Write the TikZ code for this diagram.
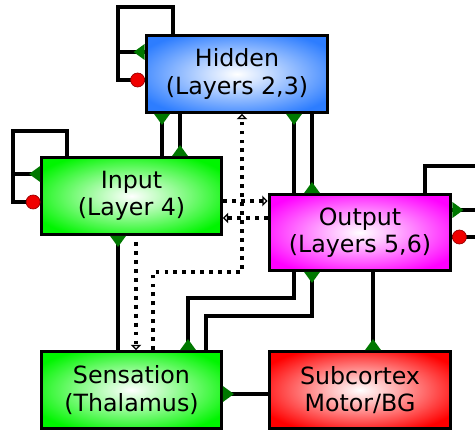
\documentclass[tikz,border=0pt]{standalone}
\usepackage{fontspec}
\setmainfont{DejaVu Sans}
\usetikzlibrary{arrows.meta}

\definecolor{hiddenblue}{RGB}{45,125,255}
\definecolor{layergreen}{RGB}{0,245,0}
\definecolor{outmagenta}{RGB}{255,0,255}
\definecolor{subred}{RGB}{255,0,0}
\definecolor{excgreen}{RGB}{0,120,0}
\definecolor{inhred}{RGB}{240,0,0}
\colorlet{layercol}{white}

% soft white glow in the middle of each layer
\pgfdeclareradialshading[layercol]{layerglow}{\pgfpoint{0bp}{0bp}}{%
  color(0bp)=(white); color(8bp)=(white!75!layercol);
  color(30bp)=(layercol); color(50bp)=(layercol)}

\tikzset{
  layer/.style={/utils/exec={\colorlet{layercol}{#1}}, draw=black, line width=1.9pt,
    shading=layerglow, align=center, inner sep=0pt, minimum width=3.63cm,
    minimum height=1.53cm, font=\fontsize{13.5}{15.5}\selectfont},
  prjn/.style={line width=1.9pt},
  deep/.style={line width=2.2pt, dash pattern=on 2.2pt off 2.9pt},
  deeptip/.style={-{Triangle[open, length=3pt, width=6pt, line width=1.1pt]}}
}

% excitatory / inhibitory synapse marks: point on the border, direction
\newcommand{\excsyn}[2]{%
  \fill[excgreen, shift={#1}, rotate=#2] (0,-8) -- (11,0) -- (0,8) -- cycle;}
\newcommand{\inhsyn}[2]{%
  \filldraw[fill=inhred, draw=red!60!black, line width=0.4pt, shift={#1}, rotate=#2]
    (7,0) circle [radius=0.14cm];}

\begin{document}
\begin{tikzpicture}[x=0.02cm, y=-0.02cm]
  \useasboundingbox (0,0) rectangle (475,431);
  \pgfmathsetmacro{\outx}{482}

  \node[layer=hiddenblue] (hidden) at (237,74) {Hidden\\(Layers 2,3)};
  \node[layer=layergreen, minimum width=3.59cm] (input) at (131.5,196) {Input\\(Layer 4)};
  \node[layer=outmagenta, minimum height=1.51cm] (output) at (360,232.5) {Output\\(Layers 5,6)};
  \node[layer=layergreen, minimum width=3.59cm] (sensation) at (131.5,390) {Sensation\\(Thalamus)};
  \node[layer=subred] (subcortex) at (360,390) {Subcortex\\Motor/BG};

  % self loops
  \draw[prjn] (173,0 |- hidden.north) -- (173,7) -- (118,7) -- (118,80)
    -- (hidden.west |- 0,80);
  \draw[prjn] (118,52) -- (hidden.west |- 0,52);
  \draw[prjn] (67,0 |- input.north) -- (67,131) -- (13,131) -- (13,202)
    -- (input.west |- 0,202);
  \draw[prjn] (13,174) -- (input.west |- 0,174);
  \draw[prjn] (425,0 |- output.north) -- (425,166) -- (\outx,166) -- (\outx,237)
    -- (output.east |- 0,237);
  \draw[prjn] (\outx,210) -- (output.east |- 0,210);

  % projections
  \draw[prjn] (162,0 |- hidden.south) -- (162,0 |- input.north);
  \draw[prjn] (180,0 |- hidden.south) -- (180,0 |- input.north);
  \draw[prjn] (294,0 |- hidden.south) -- (294,0 |- output.north);
  \draw[prjn] (312,0 |- hidden.south) -- (312,0 |- output.north);
  \draw[prjn] (118,0 |- input.south) -- (118,0 |- sensation.north);
  \draw[prjn] (188,0 |- sensation.north) -- (188,298) -- (294,298)
    -- (294,0 |- output.south);
  \draw[prjn] (206,0 |- sensation.north) -- (206,316) -- (312,316)
    -- (312,0 |- output.south);
  \draw[prjn] (373,0 |- output.south) -- (373,0 |- subcortex.north);
  \draw[prjn] (sensation.east |- 0,394) -- (subcortex.west |- 0,394);

  % deep (dotted) projections
  \draw[deep, deeptip] (153,0 |- sensation.north) -- (153,272) -- (242,272)
    -- (242,0 |- hidden.south);
  \draw[deep, deeptip] (136,242) -- (136,0 |- sensation.north);
  \draw[deep, deeptip] (input.east |- 0,201) -- (output.west |- 0,201);
  \draw[deep, deeptip] (output.west |- 0,218) -- (input.east |- 0,218);

  \excsyn{(hidden.west |- 0,52)}{180}
  \inhsyn{(hidden.west |- 0,80)}{180}
  \excsyn{(input.west |- 0,174)}{180}
  \inhsyn{(input.west |- 0,202)}{180}
  \excsyn{(output.east |- 0,210)}{0}
  \inhsyn{(output.east |- 0,237)}{0}
  \excsyn{(162,0 |- hidden.south)}{-90}
  \excsyn{(180,0 |- input.north)}{90}
  \excsyn{(294,0 |- hidden.south)}{-90}
  \excsyn{(312,0 |- output.north)}{90}
  \excsyn{(118,0 |- input.south)}{-90}
  \excsyn{(188,0 |- sensation.north)}{90}
  \excsyn{(312,0 |- output.south)}{-90}
  \excsyn{(373,0 |- subcortex.north)}{90}
  \excsyn{(sensation.east |- 0,394)}{0}
\end{tikzpicture}
\end{document}
